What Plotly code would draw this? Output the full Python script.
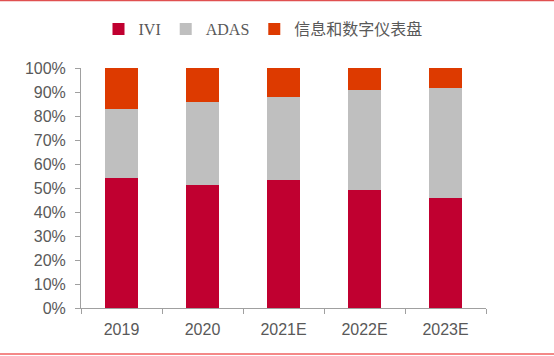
import plotly.graph_objects as go

categories = ["2019", "2020", "2021E", "2022E", "2023E"]
ivi = [54.0, 51.3, 53.2, 49.0, 45.8]
adas = [29.0, 34.7, 34.8, 42.0, 45.7]
cluster = [17.0, 14.0, 12.0, 9.0, 8.5]
y_ticks = [0, 10, 20, 30, 40, 50, 60, 70, 80, 90, 100]
y_tick_labels = [f"{v}%" for v in y_ticks]

names = ["IVI", "ADAS", "信息和数字仪表盘"]
colors = ["#C00030", "#BFBFBF", "#DD3A00"]

fig = go.Figure()
for name, vals, col in zip(names, [ivi, adas, cluster], colors):
    fig.add_trace(go.Bar(x=categories, y=vals, name=name,
                         marker=dict(color=col, line=dict(width=0))))

grey = "#595959"
axis_col = "#A0A0A0"
fig.update_layout(
    barmode="stack",
    bargap=0.6,
    width=554, height=356,
    margin=dict(l=81, r=68, t=68, b=48, autoexpand=False),
    plot_bgcolor="white", paper_bgcolor="white",
    showlegend=True,
    legend=dict(orientation="h", xref="container", yref="container",
                x=263 / 554, xanchor="center", y=1 - 29 / 356, yanchor="middle",
                font=dict(family="Liberation Serif, Noto Sans CJK SC", size=16, color=grey),
                itemwidth=30, traceorder="normal"),
    xaxis=dict(showline=True, linecolor=axis_col, linewidth=1, automargin=False,
               ticks="outside", tickson="boundaries", ticklen=5, tickcolor=axis_col,
               tickfont=dict(family="Liberation Sans, Arial", size=16, color=grey),
               ticklabelstandoff=7, showgrid=False),
    yaxis=dict(range=[0, 100], tickvals=y_ticks, ticktext=y_tick_labels, automargin=False,
               showline=True, linecolor=axis_col, linewidth=1,
               ticks="outside", ticklen=5, tickcolor=axis_col,
               tickfont=dict(family="Liberation Sans, Arial", size=16, color=grey),
               ticklabelstandoff=6, showgrid=False, zeroline=False),
    shapes=[
        dict(type="line", xref="paper", yref="paper", x0=-0.3, x1=1.3,
             y0=1 + 67.5 / 240, y1=1 + 67.5 / 240, line=dict(color="#E05050", width=1.5)),
        dict(type="line", xref="paper", yref="paper", x0=-0.3, x1=1.3,
             y0=-(354 - 308) / 240, y1=-(354 - 308) / 240, line=dict(color="#F06060", width=1.5)),
    ],
)

fig.write_html("out.html", config={"displayModeBar": False},
               post_script="document.body.style.margin='0';document.body.style.overflow='hidden';")
